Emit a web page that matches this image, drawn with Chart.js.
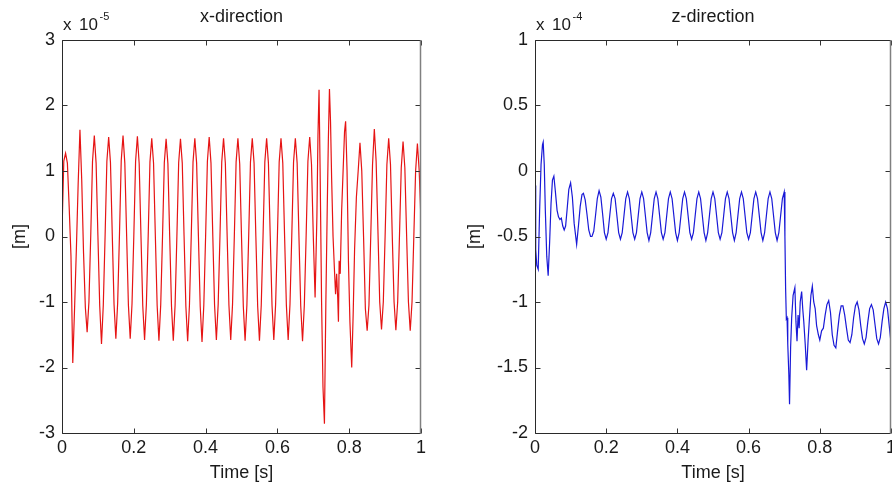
<!DOCTYPE html>
<html><head><meta charset="utf-8">
<script src="https://cdn.jsdelivr.net/npm/chart.js@4/dist/chart.umd.min.js"></script>
<style>
html,body{margin:0;padding:0;background:#fff;overflow:hidden;width:892px;height:487px;}
#wrap{position:relative;width:892px;height:487px;overflow:hidden;background:#fff;}
canvas{position:absolute;top:0;}
#c1{left:0;} #c2{left:450px;}
</style></head>
<body><div id="wrap"><canvas id="c1" width="483" height="487"></canvas><canvas id="c2" width="526" height="487"></canvas></div>
<script>
// ---------- tick labels / titles ----------
const xTicks = [0, 0.2, 0.4, 0.6, 0.8, 1];
const xTickLabels = ['0', '0.2', '0.4', '0.6', '0.8', '1'];
const leftYTicks = [-3, -2, -1, 0, 1, 2, 3];
const leftYTickLabels = ['-3', '-2', '-1', '0', '1', '2', '3'];
const rightYTicks = [-2, -1.5, -1, -0.5, 0, 0.5, 1];
const rightYTickLabels = ['-2', '-1.5', '-1', '-0.5', '0', '0.5', '1'];
const leftTitle = 'x-direction';
const rightTitle = 'z-direction';
const leftExponent = '-5';
const rightExponent = '-4';
const xAxisTitle = 'Time [s]';
const yAxisTitle = '[m]';

// ---------- x-direction displacement (x 1e-5 m) ----------
const xTimes = [
 0, .005, .01, .015, .02, .025, .03, .035,
 .04, .045, .05, .055, .06, .065, .07, .075,
 .08, .085, .09, .095, .1, .105, .11, .115,
 .12, .125, .13, .135, .14, .145, .15, .155,
 .16, .165, .17, .175, .18, .185, .19, .195,
 .2, .205, .21, .215, .22, .225, .23, .235,
 .24, .245, .25, .255, .26, .265, .27, .275,
 .28, .285, .29, .295, .3, .305, .31, .315,
 .32, .325, .33, .335, .34, .345, .35, .355,
 .36, .365, .37, .375, .38, .385, .39, .395,
 .4, .405, .41, .415, .42, .425, .43, .435,
 .44, .445, .45, .455, .46, .465, .47, .475,
 .48, .485, .49, .495, .5, .505, .51, .515,
 .52, .525, .53, .535, .54, .545, .55, .555,
 .56, .565, .57, .575, .58, .585, .59, .595,
 .6, .605, .61, .615, .62, .625, .63, .635,
 .64, .645, .65, .655, .66, .665, .67, .675,
 .68, .685, .69, .695, .7, .705,
 .71, .713, .716, .719, .723, .727, .731, .735, .739, .742, .745, .748, .751, .755,
 .759, .762, .765, .768, .77, .772, .775, .779, .783, .787, .79, .794, .798, .802,
 .807, .811, .815, .82, .825, .83,
 .835, .84, .845, .85, .855, .86, .865, .87, .875, .88, .885, .89, .895, .9,
 .905, .91, .915, .92, .925, .93, .935, .94, .945, .95, .955, .96, .965, .97,
 .975, .98, .985, .99, .995, 1
];
const xValues = [
 0.08, 1.15, 1.27, 1.12, 0.45, -0.3, -1.93, -1.1,
 -0.2, 0.8, 1.63, 0.85, -0.25, -1.08, -1.46, -1.0,
 0.0, 1.15, 1.54, 1.12, 0.02, -1.05, -1.64, -1.05,
 0.0, 1.15, 1.52, 1.13, 0.03, -1.04, -1.56, -1.02,
 0.01, 1.16, 1.54, 1.12, 0.02, -1.05, -1.56, -1.03,
 0.0, 1.15, 1.53, 1.11, 0.0, -1.06, -1.58, -1.04,
 -0.01, 1.14, 1.50, 1.12, 0.01, -1.05, -1.59, -1.04,
 0.0, 1.13, 1.49, 1.11, 0.0, -1.06, -1.59, -1.05,
 0.0, 1.13, 1.49, 1.12, 0.01, -1.06, -1.60, -1.05,
 0.0, 1.14, 1.50, 1.12, 0.0, -1.07, -1.61, -1.05,
 0.0, 1.15, 1.52, 1.12, 0.02, -1.05, -1.58, -1.04,
 0.0, 1.14, 1.50, 1.12, 0.01, -1.05, -1.58, -1.04,
 0.0, 1.14, 1.50, 1.11, 0.0, -1.06, -1.59, -1.05,
 0.0, 1.14, 1.50, 1.12, 0.0, -1.06, -1.59, -1.05,
 0.0, 1.14, 1.50, 1.12, 0.01, -1.05, -1.58, -1.04,
 0.0, 1.14, 1.50, 1.12, 0.01, -1.05, -1.58, -1.04,
 0.0, 1.14, 1.50, 1.12, 0.0, -1.06, -1.60, -1.05,
 0.0, 1.15, 1.52, 1.1, 0.0, -0.93,
 0.3, 1.55, 2.24, 1.0, -0.98, -2.3, -2.86, -1.0, 0.5, 1.5, 2.25, 1.75, 0.9, 0.0,
 -0.52, -0.88, -0.57, -0.93, -1.3, -0.37, -0.57, 0.4, 1.0, 1.6, 1.76, 1.0, -0.4, -1.3,
 -2.0, -1.2, -0.2, 0.6, 1.0, 1.43,
 1.0, 0.0, -1.1, -1.44, -1.05, 0.0, 1.1, 1.64, 1.15, 0.1, -1.0, -1.42, -1.0, 0.0,
 1.1, 1.5, 1.1, 0.0, -1.0, -1.43, -1.0, 0.0, 1.05, 1.45, 1.05, 0.0, -1.0, -1.44,
 -1.0, 0.0, 1.0, 1.42, 1.0, 0.24
];

// ---------- z-direction displacement (x 1e-4 m) ----------
const zTimes = [
 0, .002, .005, .009, .013, .017, .021, .023, .026, .029, .033, .037, .041, .045,
 .049, .053, .057, .062, .066, .07, .074, .078, .082, .086, .09, .095, .1, .105,
 .11, .117, .122, .127, .132, .136, .141, .146, .151, .156,
 .16, .165, .17, .175, .18, .185, .19, .195,
 .2, .205, .21, .215, .22, .225, .23, .235,
 .24, .245, .25, .255, .26, .265, .27, .275,
 .28, .285, .29, .295, .3, .305, .31, .315,
 .32, .325, .33, .335, .34, .345, .35, .355,
 .36, .365, .37, .375, .38, .385, .39, .395,
 .4, .405, .41, .415, .42, .425, .43, .435,
 .44, .445, .45, .455, .46, .465, .47, .475,
 .48, .485, .49, .495, .5, .505, .51, .515,
 .52, .525, .53, .535, .54, .545, .55, .555,
 .56, .565, .57, .575, .58, .585, .59, .595,
 .6, .605, .61, .615, .62, .625, .63, .635,
 .64, .645, .65, .655, .66, .665, .67, .675,
 .68, .685, .69, .695, .7,
 .702, .704, .706, .708, .71, .713, .715, .718, .721, .725, .73, .733, .736, .739,
 .742, .745, .749, .752, .755, .759, .763, .767, .771, .775, .779, .783, .787, .791,
 .796, .8, .805, .81,
 .815, .82, .825, .83, .835, .84, .845, .85, .855, .86, .865, .87, .875, .88,
 .885, .89, .895, .9, .905, .91, .915, .92, .925, .93, .935, .94, .945, .95,
 .955, .96, .965, .97, .975, .98, .985, .99, .995, 1
];
const zValues = [
 -0.11, -0.6, -0.72, -0.75, -0.3, 0.05, 0.2, 0.22, 0.05, -0.3, -0.65, -0.8, -0.55, -0.25,
 -0.07, -0.04, -0.15, -0.3, -0.35, -0.37, -0.36, -0.42, -0.45, -0.42, -0.3, -0.14, -0.09, -0.2,
 -0.4, -0.56, -0.42, -0.27, -0.18, -0.17, -0.22, -0.33, -0.45, -0.5,
 -0.5, -0.46, -0.34, -0.21, -0.15, -0.2, -0.33, -0.47,
 -0.52, -0.47, -0.34, -0.21, -0.17, -0.21, -0.34, -0.47,
 -0.52, -0.47, -0.34, -0.21, -0.16, -0.21, -0.34, -0.47,
 -0.52, -0.47, -0.34, -0.21, -0.16, -0.21, -0.34, -0.47,
 -0.53, -0.47, -0.34, -0.21, -0.16, -0.21, -0.34, -0.47,
 -0.52, -0.47, -0.34, -0.21, -0.16, -0.21, -0.34, -0.47,
 -0.53, -0.47, -0.34, -0.21, -0.16, -0.21, -0.34, -0.47,
 -0.52, -0.47, -0.34, -0.21, -0.16, -0.21, -0.34, -0.47,
 -0.53, -0.47, -0.34, -0.21, -0.16, -0.21, -0.34, -0.47,
 -0.52, -0.47, -0.34, -0.21, -0.16, -0.21, -0.34, -0.47,
 -0.53, -0.47, -0.34, -0.21, -0.16, -0.21, -0.34, -0.47,
 -0.52, -0.47, -0.34, -0.21, -0.16, -0.21, -0.34, -0.47,
 -0.53, -0.47, -0.34, -0.21, -0.16, -0.21, -0.34, -0.47,
 -0.53, -0.47, -0.34, -0.21, -0.16,
 -0.5, -0.9, -1.13, -1.12, -1.32, -1.55, -1.78, -1.35, -1.12, -0.95, -0.89, -1.15, -1.3, -1.1,
 -1.2, -1.0, -0.92, -1.05, -1.15, -1.32, -1.52, -1.3, -1.12, -0.95, -0.88, -1.0, -1.05, -1.18,
 -1.25, -1.29, -1.22, -1.2,
 -1.1, -1.02, -0.99, -1.08, -1.25, -1.33, -1.35, -1.22, -1.1, -1.03, -1.03, -1.1, -1.2, -1.29,
 -1.31, -1.25, -1.12, -1.03, -1.0, -1.06, -1.18, -1.28, -1.32, -1.27, -1.15, -1.05, -1.02, -1.06,
 -1.17, -1.28, -1.32, -1.27, -1.15, -1.05, -1.0, -1.05, -1.18, -1.31
];

// ---------- drawing ----------
const FONT = '"Liberation Sans", Arial, Helvetica, sans-serif';
const TEXT = '#1a1a1a';

const axisDecor = {
  id: 'axisDecor',
  afterDraw(chart, args, opts) {
    const ctx = chart.ctx;
    const {left, right, top, bottom} = chart.chartArea;
    const xs = chart.scales.x, ys = chart.scales.y;
    const L = Math.round(left) + 0.5, R = Math.round(right) - 0.5;
    const T = Math.round(top) + 0.5, B = Math.round(bottom) + 0.5;
    ctx.save();
    ctx.lineWidth = 1;
    ctx.strokeStyle = '#333';
    const seg = (x1, y1, x2, y2) => { ctx.beginPath(); ctx.moveTo(x1, y1); ctx.lineTo(x2, y2); ctx.stroke(); };
    xs.ticks.forEach(t => {
      const p = Math.round(xs.getPixelForValue(t.value)) + 0.5;
      seg(p, B, p, B - 5);
      seg(p, T, p, T + 5);
    });
    ys.ticks.forEach(t => {
      const p = Math.round(ys.getPixelForValue(t.value)) + 0.5;
      seg(L, p, L + 5, p);
      seg(R, p, R - 5, p);
    });
    ctx.strokeStyle = '#2a2a2a';
    seg(L, T, R, T);
    seg(L, T, L, B);
    seg(L, B, R, B);
    ctx.strokeStyle = '#808080';
    ctx.lineWidth = 1.5;
    seg(R, T, R, B);
    // exponent label
    ctx.fillStyle = TEXT;
    ctx.textBaseline = 'alphabetic';
    ctx.textAlign = 'left';
    ctx.font = '17px ' + FONT;
    ctx.fillText('x', left + 1, 30);
    ctx.fillText('10', left + 17, 30);
    ctx.font = '11px ' + FONT;
    ctx.fillText(opts.exponent, left + 37.5, 20);
    ctx.restore();
  }
};

function makeChart(id, times, values, color, yTicks, yLabels, yMin, yMax, title, exponent, axisW, yTitlePad) {
  const pts = times.map((t, i) => ({x: t, y: values[i]}));
  return new Chart(document.getElementById(id), {
    type: 'line',
    data: { datasets: [{ data: pts, borderColor: color, borderWidth: 1.2, pointRadius: 0, tension: 0, fill: false }] },
    options: {
      responsive: false, animation: false, devicePixelRatio: 1,
      layout: { padding: 0 },
      plugins: {
        legend: { display: false }, tooltip: { enabled: false },
        title: { display: true, text: title, color: TEXT, font: { family: FONT, size: 18, weight: 'normal', lineHeight: '20px' }, padding: { top: 7, bottom: 13 } },
        axisDecor: { exponent: exponent }
      },
      scales: {
        x: {
          type: 'linear', position: 'bottom', min: 0, max: 1,
          afterBuildTicks: s => { s.ticks = xTicks.map(v => ({ value: v })); },
          ticks: { callback: (v, i) => xTickLabels[i], font: { family: FONT, size: 18 }, color: TEXT, padding: 4, maxRotation: 0, autoSkip: false },
          grid: { display: false, drawTicks: false }, border: { display: false },
          title: { display: true, text: xAxisTitle, color: TEXT, font: { family: FONT, size: 18, lineHeight: '20px' }, padding: { top: 0, bottom: 4 } },
          afterFit: s => { s.height = 54; }
        },
        y: {
          type: 'linear', position: 'left', min: yMin, max: yMax,
          afterBuildTicks: s => { s.ticks = yTicks.map(v => ({ value: v })); },
          ticks: { callback: (v, i) => yLabels[i], font: { family: FONT, size: 18 }, color: TEXT, padding: 7, autoSkip: false },
          grid: { display: false, drawTicks: false }, border: { display: false },
          title: { display: true, text: yAxisTitle, color: TEXT, font: { family: FONT, size: 18, lineHeight: '20px' }, padding: { top: yTitlePad, bottom: 0 } },
          afterFit: s => { s.width = axisW; }
        },
        y2: {
          type: 'linear', position: 'right', display: true,
          ticks: { display: false }, grid: { display: false, drawTicks: false }, border: { display: false },
          afterFit: s => { s.width = axisW; }
        }
      }
    },
    plugins: [axisDecor]
  });
}

makeChart('c1', xTimes, xValues, 'rgb(230,20,20)', leftYTicks, leftYTickLabels, -3, 3, leftTitle, leftExponent, 62, 10);
makeChart('c2', zTimes, zValues, 'rgb(25,25,215)', rightYTicks, rightYTickLabels, -2, 1, rightTitle, rightExponent, 85, 15);
</script>
</body></html>
